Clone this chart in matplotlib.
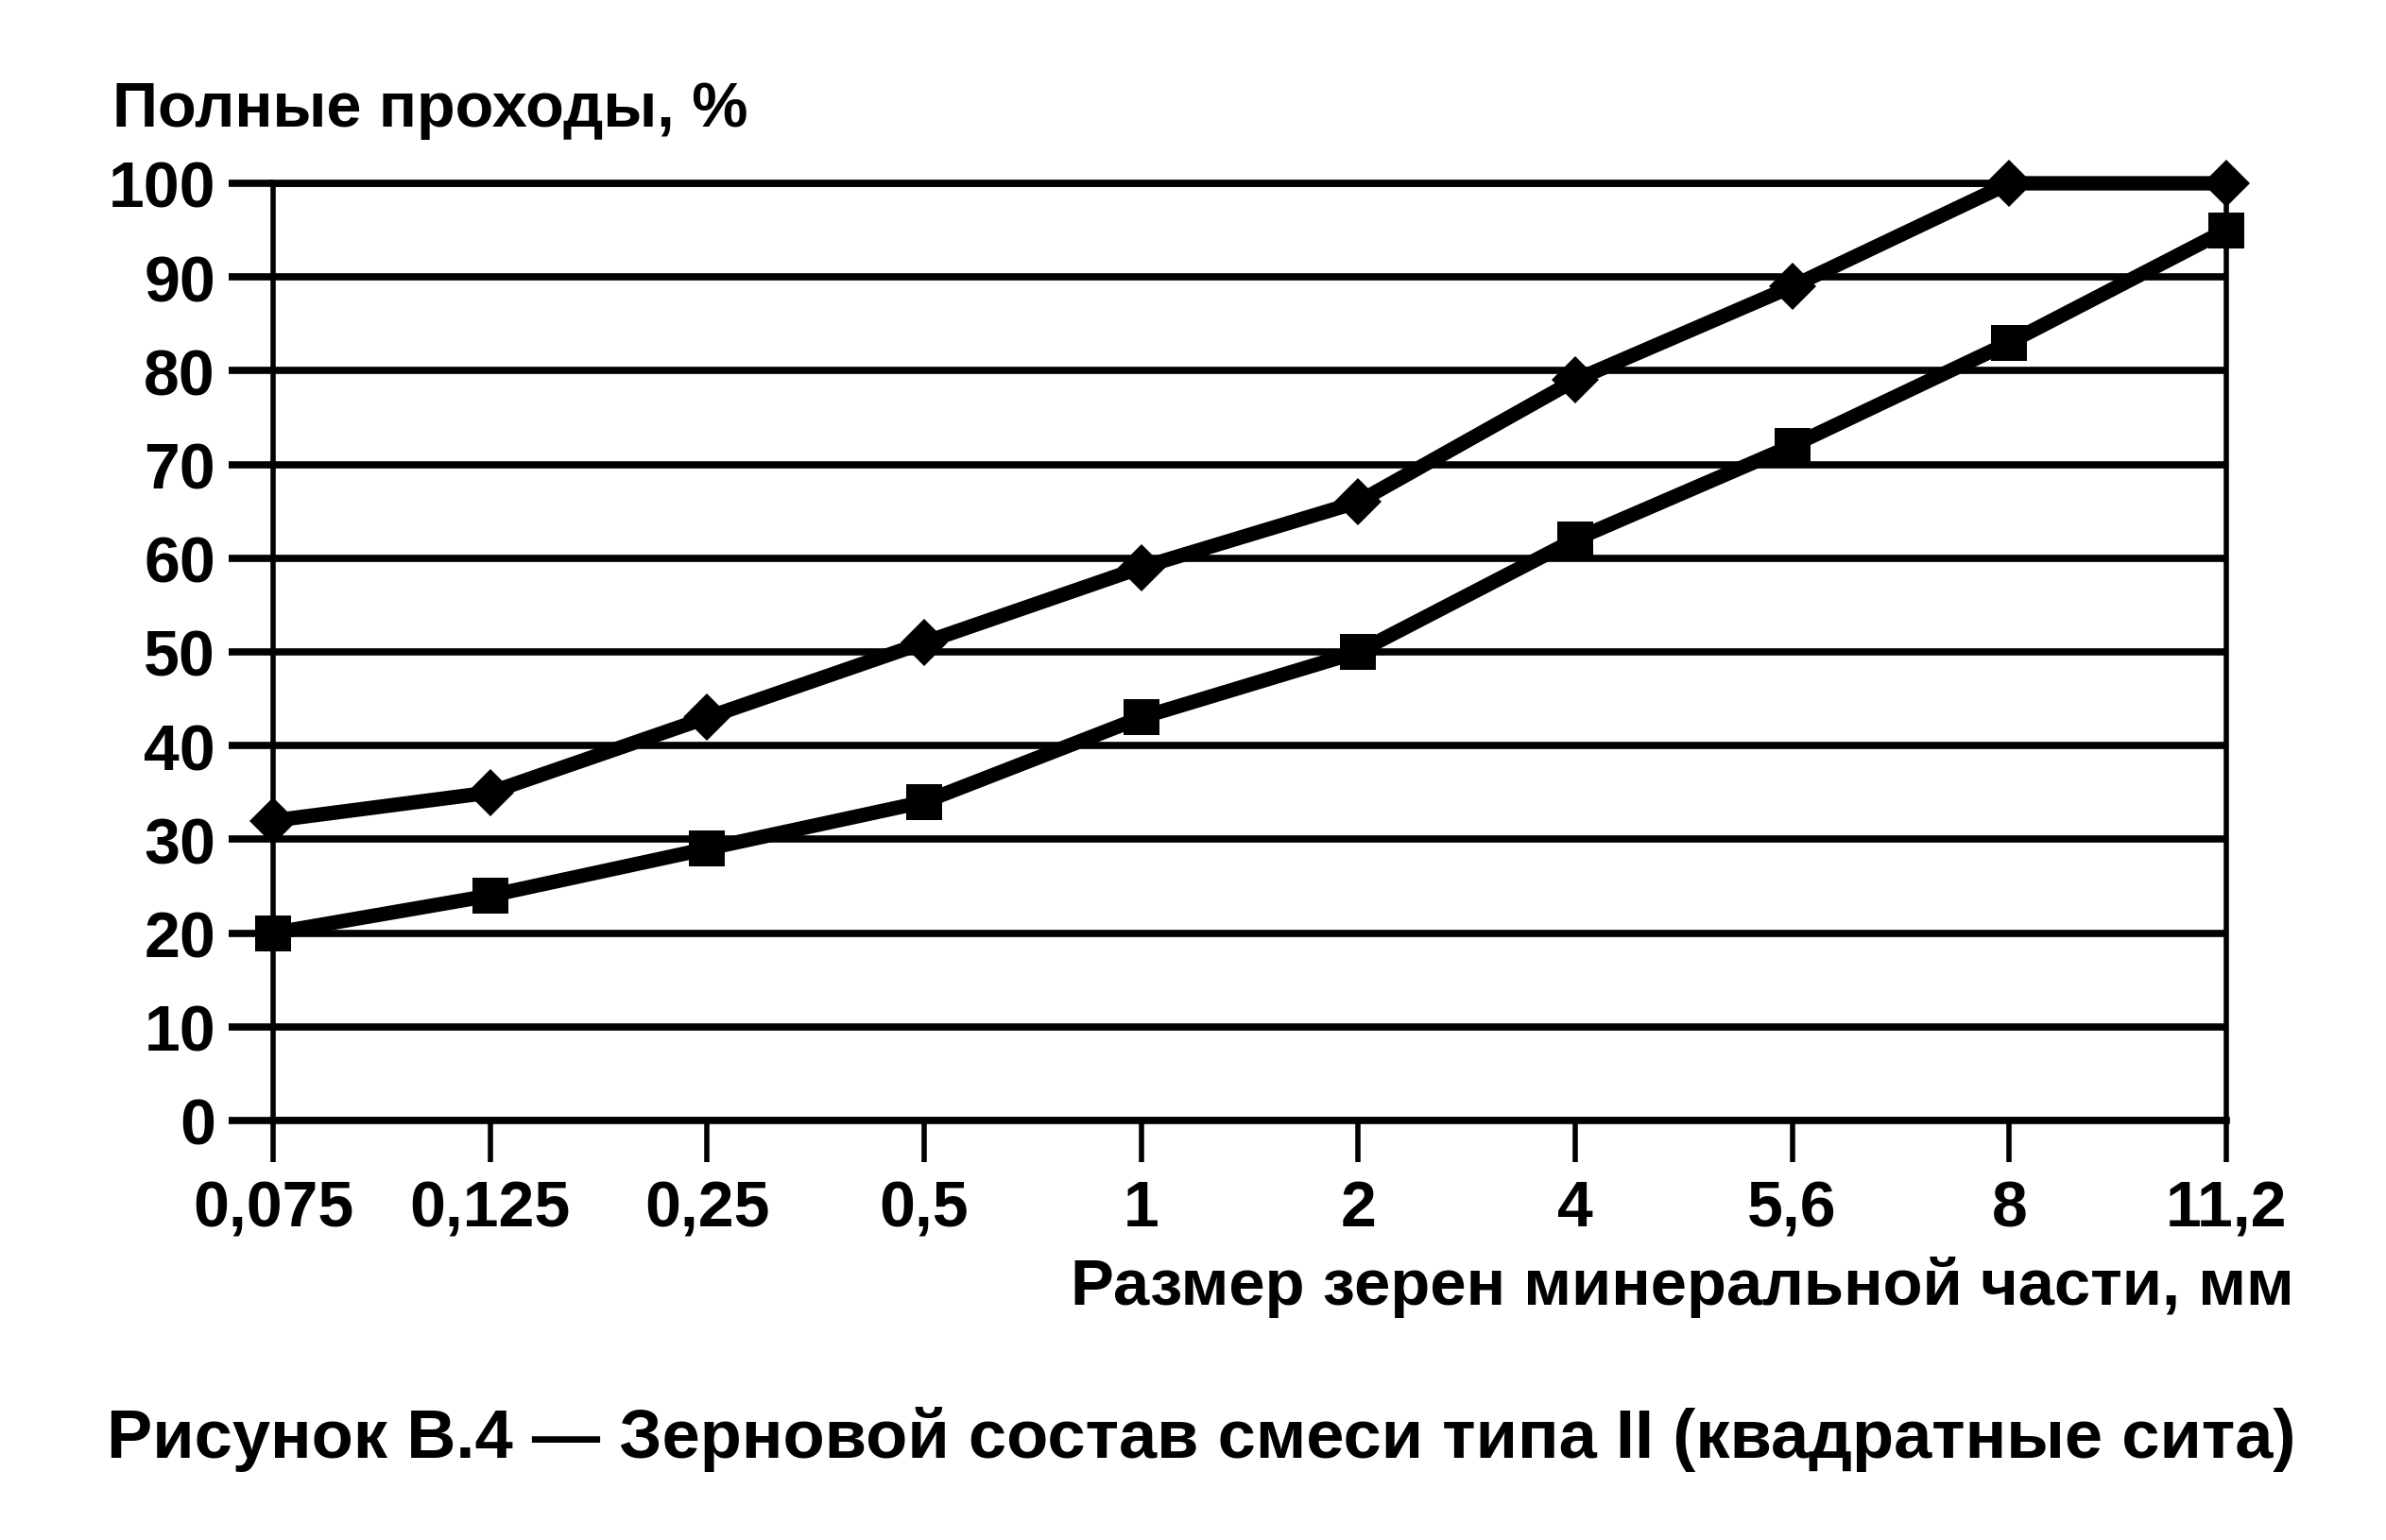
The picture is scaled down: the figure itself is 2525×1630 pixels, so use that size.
import matplotlib
matplotlib.use("Agg")
import matplotlib.pyplot as plt

plt.rcParams['font.family'] = ['Liberation Sans', 'DejaVu Sans']
plt.rcParams['font.weight'] = 'bold'

# ---- данные ----
sizes = ["0,075", "0,125", "0,25", "0,5", "1", "2", "4", "5,6", "8", "11,2"]
upper = [32, 35, 43, 51, 59, 66, 79, 89, 100, 100]   # ромбы
lower = [20, 24, 29, 34, 43, 50, 62, 72, 83, 95]     # квадраты
y_ticks = list(range(0, 101, 10))

y_title = "Полные проходы, %"
x_title = "Размер зерен минеральной части, мм"
caption = "Рисунок В.4 — Зерновой состав смеси типа II (квадратные сита)"

W, H = 2525, 1631
fig = plt.figure(figsize=(W / 100, H / 100), dpi=100)
ax = fig.add_axes([289 / W, 1 - 1187 / H, (2356 - 289) / W, (1187 - 195) / H])

xs = list(range(len(sizes)))
ax.plot(xs, upper, color="black", lw=11, marker="D", ms=25, mew=0,
        clip_on=False, zorder=5)
ax.plot(xs, lower, color="black", lw=11, marker="s", ms=27, mew=0,
        clip_on=False, zorder=5)

ax.set_xlim(0, len(sizes) - 1)
ax.set_ylim(0, 100)
ax.set_xticks(xs)
ax.set_xticklabels(sizes)
ax.set_yticks(y_ticks)

# горизонтальная сетка
ax.yaxis.grid(True, color="black", lw=5.5)
ax.xaxis.grid(False)
ax.set_axisbelow(True)

for side in ("top", "bottom"):
    ax.spines[side].set_linewidth(5.5)
for side in ("left", "right"):
    ax.spines[side].set_linewidth(4)

ax.tick_params(axis="y", direction="out", length=34, width=5.5, pad=10,
               labelsize=49)
ax.tick_params(axis="x", direction="out", length=32, width=4, pad=12,
               labelsize=49)

fig.text(119 / W, 1 - 134 / H, y_title, fontsize=48, ha="left", va="baseline")
fig.text(2428 / W, 1 - 1381 / H, x_title, fontsize=49.5, ha="right", va="baseline")
fig.text(113 / W, 1 - 1543 / H, caption, fontsize=52, ha="left", va="baseline")

fig.savefig("out.png", dpi=100, facecolor="white")
